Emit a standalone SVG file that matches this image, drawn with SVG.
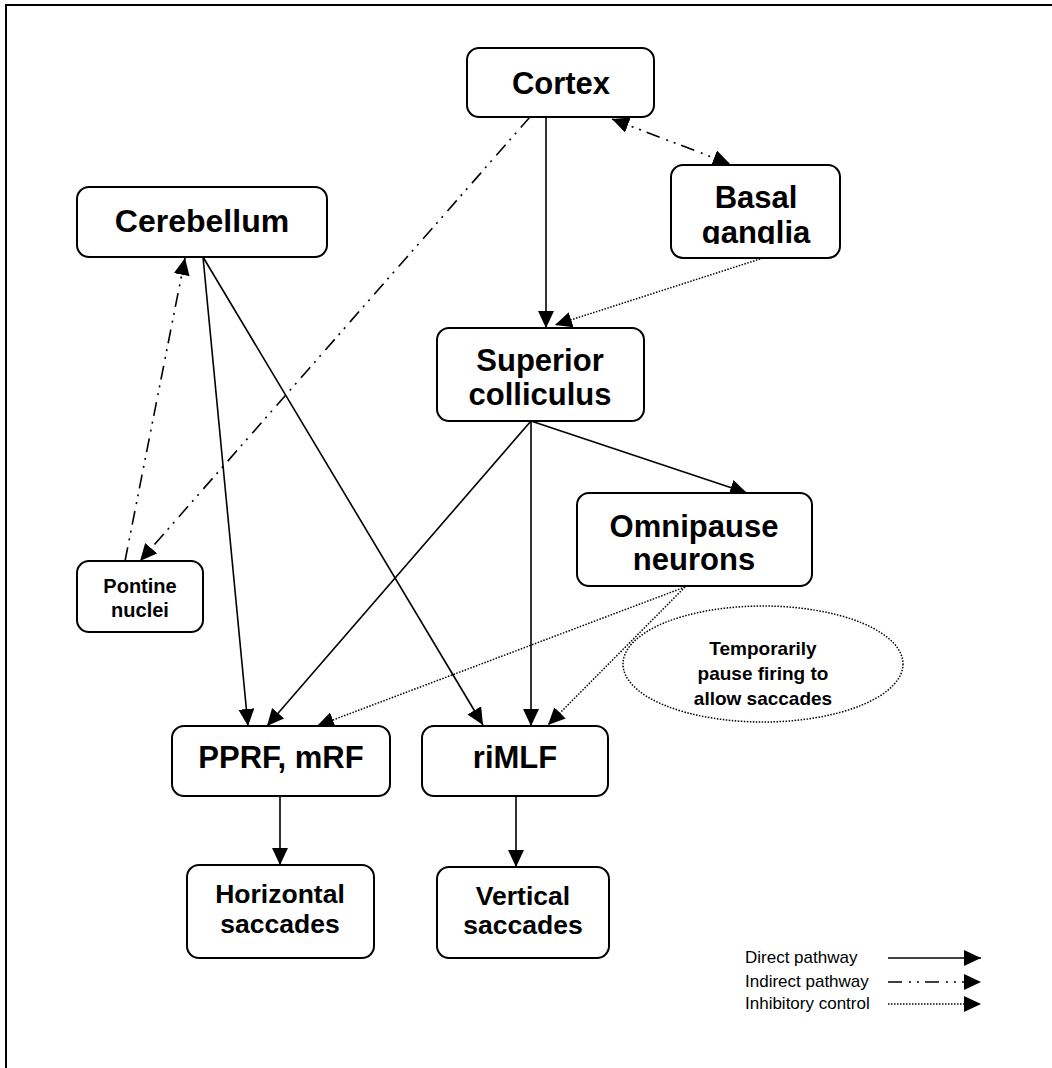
<svg xmlns="http://www.w3.org/2000/svg" width="1052" height="1068" viewBox="0 0 1052 1068">
  <style>
    .box { fill: #fff; stroke: #000; stroke-width: 2; }
    .lbl { font-family: "Liberation Sans", Arial, sans-serif; font-weight: bold; fill: #000; text-anchor: middle; }
    .big { font-size: 31px; }
    .mid { font-size: 26.5px; }
    .sml { font-size: 20px; }
    .note { font-size: 19px; }
    .leg { font-family: "Liberation Sans", Arial, sans-serif; font-size: 17px; fill: #000; }
    .direct { fill: none; stroke: #000; stroke-width: 1.6; marker-end: url(#head); }
    .indirect { fill: none; stroke: #000; stroke-width: 1.6; stroke-dasharray: 14 7 2 6 2 6; marker-end: url(#head); }
    .inhib { fill: none; stroke: #000; stroke-width: 1.5; stroke-dasharray: 1.5 1.5; marker-end: url(#head); }
  </style>
  <defs>
    <marker id="head" markerUnits="userSpaceOnUse" markerWidth="18" markerHeight="17" refX="17" refY="8" orient="auto-start-reverse">
      <path d="M0,0 L17,8 L0,16 Z" fill="#000"/>
    </marker>
    <clipPath id="basalClip">
      <rect x="671" y="165" width="169" height="79"/>
    </clipPath>
  </defs>

  <rect width="1052" height="1068" fill="#fff"/>
  <!-- frame -->
  <path d="M6,1068 V5 H1052" fill="none" stroke="#000" stroke-width="2"/>

  <!-- connectors -->
  <g id="connectors">
    <line class="direct" x1="546" y1="117" x2="546" y2="328"/>
    <line class="inhib" x1="763" y1="258" x2="555" y2="325"/>
    <line class="indirect" x1="612" y1="119" x2="730" y2="164" style="marker-start:url(#head)"/>
    <line class="indirect" x1="530" y1="117" x2="140" y2="561"/>
    <line class="indirect" x1="125" y1="561" x2="185" y2="258"/>
    <line class="direct" x1="203" y1="257" x2="248" y2="726"/>
    <line class="direct" x1="203" y1="257" x2="483" y2="725"/>
    <line class="direct" x1="531" y1="421" x2="267" y2="726"/>
    <line class="direct" x1="531" y1="421" x2="531" y2="726"/>
    <line class="direct" x1="531" y1="421" x2="747" y2="493"/>
    <line class="inhib" x1="685" y1="587" x2="317" y2="726"/>
    <line class="inhib" x1="685" y1="587" x2="548" y2="725"/>
    <line class="direct" x1="280" y1="796" x2="280" y2="865"/>
    <line class="direct" x1="516" y1="796" x2="516" y2="867"/>
  </g>

  <!-- nodes -->
  <g id="cortex">
    <rect class="box" x="467" y="48" width="187" height="69" rx="12"/>
    <text class="lbl big" x="561" y="94">Cortex</text>
  </g>
  <g id="basal-ganglia">
    <rect class="box" x="671" y="165" width="169" height="93" rx="12"/>
    <g clip-path="url(#basalClip)">
      <text class="lbl big" x="756" y="208">Basal</text>
      <text class="lbl big" x="756" y="243">ganglia</text>
    </g>
  </g>
  <g id="cerebellum">
    <rect class="box" x="77" y="187" width="250" height="70" rx="12"/>
    <text class="lbl big" x="202" y="232" style="font-size:32px">Cerebellum</text>
  </g>
  <g id="superior-colliculus">
    <rect class="box" x="437" y="328" width="207" height="93" rx="12"/>
    <text class="lbl big" x="540" y="371">Superior</text>
    <text class="lbl big" x="540" y="405">colliculus</text>
  </g>
  <g id="omnipause-neurons">
    <rect class="box" x="577" y="493" width="235" height="93" rx="12"/>
    <text class="lbl big" x="694" y="537">Omnipause</text>
    <text class="lbl big" x="694" y="570">neurons</text>
  </g>
  <g id="pontine-nuclei">
    <rect class="box" x="77" y="561" width="126" height="71" rx="12"/>
    <text class="lbl sml" x="140" y="593">Pontine</text>
    <text class="lbl sml" x="140" y="617">nuclei</text>
  </g>
  <g id="pprf-mrf">
    <rect class="box" x="172" y="726" width="218" height="70" rx="12"/>
    <text class="lbl big" x="281" y="768">PPRF, mRF</text>
  </g>
  <g id="rimlf">
    <rect class="box" x="422" y="726" width="186" height="70" rx="12"/>
    <text class="lbl big" x="515" y="768">riMLF</text>
  </g>
  <g id="horizontal-saccades">
    <rect class="box" x="187" y="865" width="187" height="93" rx="12"/>
    <text class="lbl mid" x="280" y="903">Horizontal</text>
    <text class="lbl mid" x="280" y="933">saccades</text>
  </g>
  <g id="vertical-saccades">
    <rect class="box" x="437" y="867" width="172" height="91" rx="12"/>
    <text class="lbl mid" x="523" y="905">Vertical</text>
    <text class="lbl mid" x="523" y="934">saccades</text>
  </g>
  <g id="pause-note">
    <ellipse cx="763" cy="664" rx="140" ry="58" fill="none" stroke="#000" stroke-width="1.5" stroke-dasharray="1.5 1.5"/>
    <text class="lbl note" x="763" y="655">Temporarily</text>
    <text class="lbl note" x="763" y="680">pause firing to</text>
    <text class="lbl note" x="763" y="705">allow saccades</text>
  </g>

  <!-- legend -->
  <g id="legend">
    <text class="leg" x="745" y="963">Direct pathway</text>
    <text class="leg" x="745" y="987">Indirect pathway</text>
    <text class="leg" x="745" y="1009">Inhibitory control</text>
    <line class="direct" x1="888" y1="958" x2="981" y2="958"/>
    <line class="indirect" x1="888" y1="982" x2="981" y2="982"/>
    <line class="inhib" x1="888" y1="1004" x2="981" y2="1004"/>
  </g>
</svg>
